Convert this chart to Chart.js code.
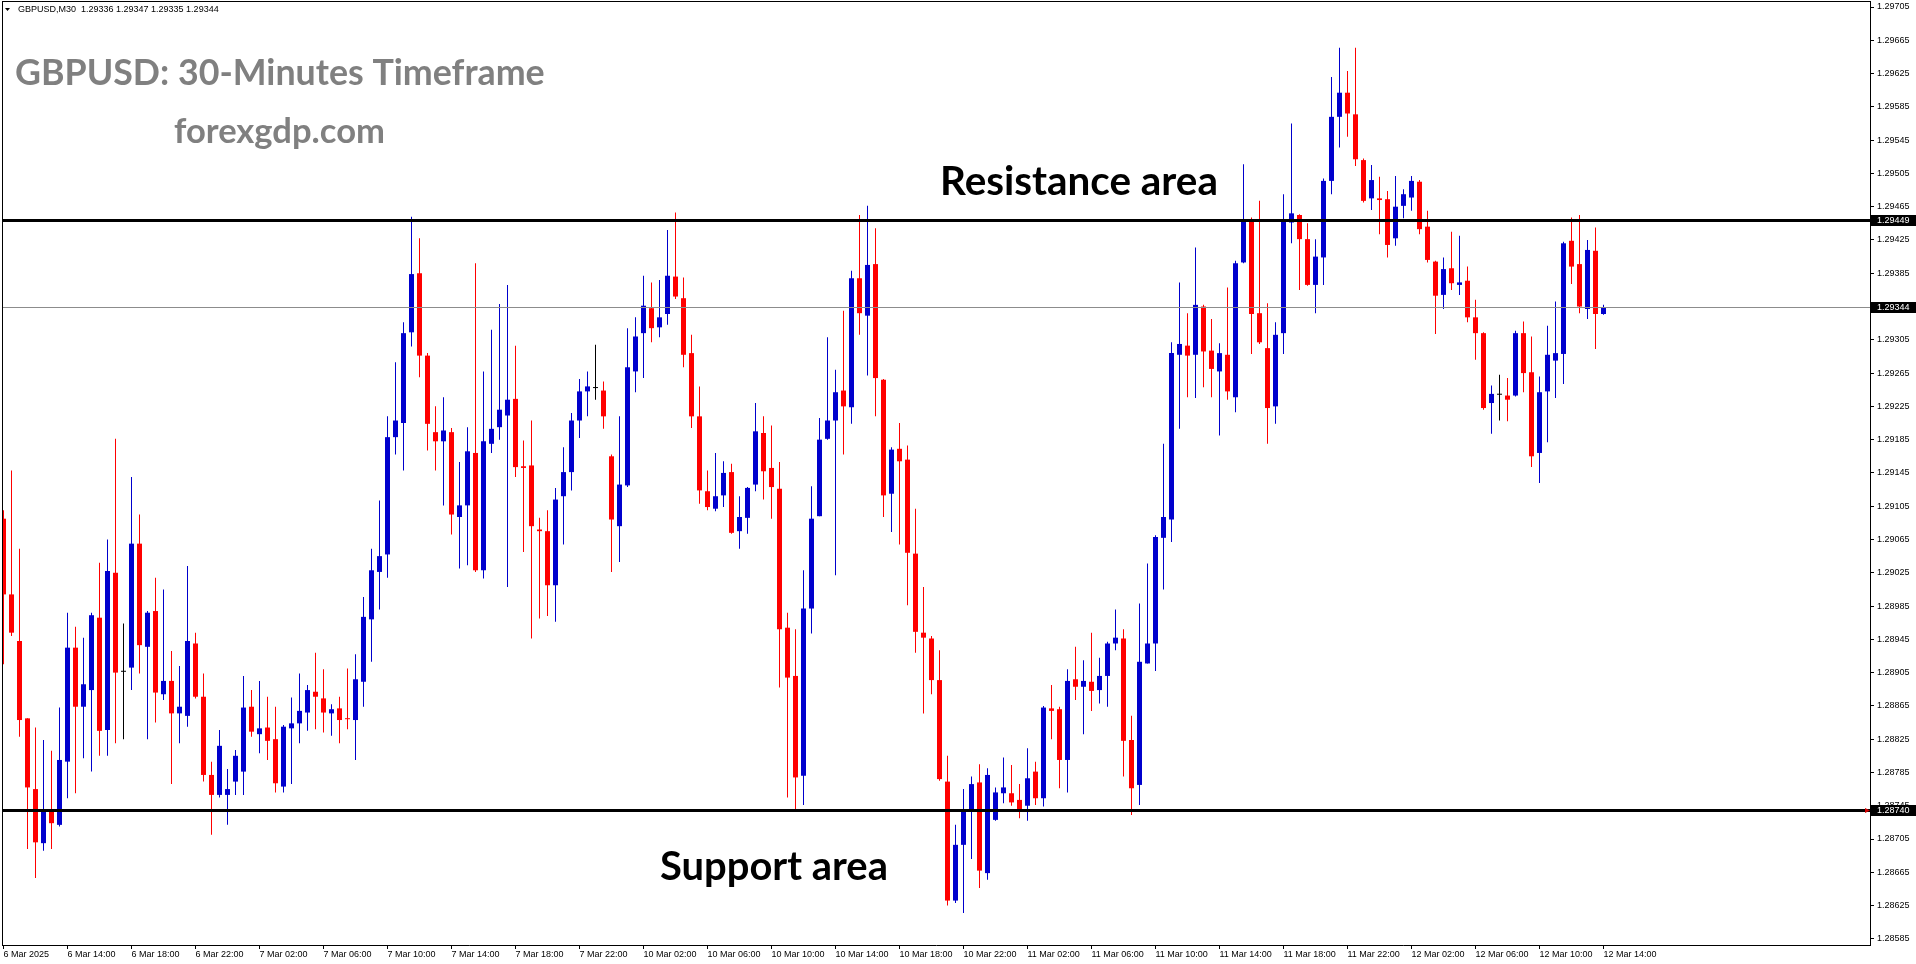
<!DOCTYPE html>
<html>
<head>
<meta charset="utf-8">
<script src="https://cdn.jsdelivr.net/npm/chart.js@4.4.1/dist/chart.umd.min.js"></script>
<style>
html,body{margin:0;padding:0;background:#fff;overflow:hidden}
#wrap{position:relative;width:1916px;height:964px}
</style>
</head>
<body>
<div id="wrap"><canvas id="c"></canvas></div>
<script>
// ---- DATA (GBPUSD M30) ----
const xTickLabels = ['6 Mar 2025','6 Mar 14:00','6 Mar 18:00','6 Mar 22:00','7 Mar 02:00','7 Mar 06:00','7 Mar 10:00','7 Mar 14:00','7 Mar 18:00','7 Mar 22:00','10 Mar 02:00','10 Mar 06:00','10 Mar 10:00','10 Mar 14:00','10 Mar 18:00','10 Mar 22:00','11 Mar 02:00','11 Mar 06:00','11 Mar 10:00','11 Mar 14:00','11 Mar 18:00','11 Mar 22:00','12 Mar 02:00','12 Mar 06:00','12 Mar 10:00','12 Mar 14:00'];
const BARS_PER_LABEL = 8;
const yTickValues = [1.28585,1.28625,1.28665,1.28705,1.28745,1.28785,1.28825,1.28865,1.28905,1.28945,1.28985,1.29025,1.29065,1.29105,1.29145,1.29185,1.29225,1.29265,1.29305,1.29345,1.29385,1.29425,1.29465,1.29505,1.29545,1.29585,1.29625,1.29665,1.29705];

const opens = [
1.29090,1.28999,1.28943,1.28850,1.28765,1.28700,1.28739,1.28722,1.28798,1.28935,
1.28864,1.28884,1.28971,1.28836,1.29025,1.28906,1.28911,1.29060,1.28936,1.28979,
1.28879,1.28895,1.28856,1.28853,1.28940,1.28876,1.28782,1.28758,1.28758,1.28774,
1.28786,1.28864,1.28831,1.28839,1.28825,1.28768,1.28838,1.28844,1.28857,1.28882,
1.28874,1.28856,1.28862,1.28850,1.28848,1.28894,1.28969,1.29026,1.29047,1.29188,
1.29205,1.29314,1.29385,1.29286,1.29194,1.29183,1.29194,1.29092,1.29106,1.29169,
1.29028,1.29180,1.29200,1.29214,1.29234,1.29153,1.29154,1.29077,1.29075,1.29010,
1.29117,1.29146,1.29208,1.29243,1.29247,1.29244,1.29165,1.29081,1.29130,1.29267,
1.29313,1.29343,1.29320,1.29336,1.29381,1.29355,1.29289,1.29213,1.29123,1.29102,
1.29118,1.29146,1.29075,1.29091,1.29131,1.29193,1.29151,1.29126,1.28959,1.28901,
1.28781,1.28982,1.29093,1.29186,1.29208,1.29244,1.29224,1.29379,1.29334,1.29396,
1.29257,1.29120,1.29174,1.29161,1.29048,1.28953,1.28946,1.28896,1.28774,1.28631,
1.28698,1.28739,1.28773,1.28664,1.28728,1.28760,1.28760,1.28752,1.28745,1.28786,
1.28754,1.28862,1.28861,1.28800,1.28897,1.28888,1.28894,1.28884,1.28901,1.28940,
1.28946,1.28824,1.28770,1.28916,1.28940,1.29067,1.29089,1.29287,1.29298,1.29287,
1.29345,1.29292,1.29267,1.29287,1.29236,1.29398,1.29449,1.29337,1.29295,1.29225,
1.29313,1.29446,1.29455,1.29426,1.29371,1.29404,1.29496,1.29573,1.29602,1.29576,
1.29521,1.29475,1.29475,1.29474,1.29427,1.29466,1.29476,1.29495,1.29441,1.29399,
1.29359,1.29391,1.29371,1.29376,1.29332,1.29313,1.29229,1.29239,1.29238,1.29238,
1.29313,1.29266,1.29169,1.29243,1.29280,1.29288,1.29424,1.29396,1.29342,1.29412,
1.29336];

const highs = [
1.29100,1.29148,1.29054,1.28850,1.28839,1.28824,1.28811,1.28863,1.28977,1.28960,
1.28947,1.28977,1.29037,1.29065,1.29186,1.28964,1.29140,1.29095,1.28979,1.29019,
1.29005,1.28931,1.28913,1.29033,1.28953,1.28904,1.28798,1.28836,1.28789,1.28812,
1.28901,1.28884,1.28895,1.28876,1.28864,1.28842,1.28875,1.28904,1.28890,1.28929,
1.28909,1.28867,1.28876,1.28910,1.28927,1.28996,1.29054,1.29112,1.29213,1.29278,
1.29326,1.29453,1.29427,1.29289,1.29225,1.29236,1.29199,1.29158,1.29200,1.29397,
1.29267,1.29317,1.29348,1.29371,1.29298,1.29184,1.29208,1.29091,1.29100,1.29127,
1.29176,1.29217,1.29258,1.29267,1.29299,1.29255,1.29167,1.29213,1.29319,1.29332,
1.29382,1.29374,1.29377,1.29437,1.29458,1.29380,1.29311,1.29249,1.29148,1.29169,
1.29159,1.29156,1.29117,1.29128,1.29229,1.29213,1.29202,1.29158,1.28977,1.28957,
1.29028,1.29129,1.29211,1.29308,1.29269,1.29340,1.29388,1.29455,1.29466,1.29439,
1.29258,1.29176,1.29205,1.29178,1.29102,1.29008,1.28949,1.28932,1.28805,1.28722,
1.28765,1.28780,1.28795,1.28790,1.28767,1.28803,1.28794,1.28771,1.28814,1.28798,
1.28865,1.28890,1.28864,1.28909,1.28936,1.28920,1.28953,1.28923,1.28942,1.28981,
1.28957,1.28853,1.28988,1.29036,1.29070,1.29180,1.29302,1.29374,1.29337,1.29416,
1.29347,1.29330,1.29301,1.29368,1.29400,1.29516,1.29452,1.29472,1.29349,1.29326,
1.29480,1.29565,1.29456,1.29445,1.29426,1.29499,1.29621,1.29656,1.29628,1.29656,
1.29523,1.29515,1.29501,1.29484,1.29502,1.29486,1.29502,1.29497,1.29460,1.29400,
1.29404,1.29435,1.29430,1.29393,1.29353,1.29314,1.29250,1.29263,1.29259,1.29316,
1.29327,1.29309,1.29261,1.29322,1.29351,1.29423,1.29452,1.29455,1.29425,1.29440,
1.29347];

const lows = [
1.28915,1.28949,1.28828,1.28693,1.28658,1.28691,1.28693,1.28720,1.28754,1.28760,
1.28802,1.28786,1.28805,1.28805,1.28820,1.28825,1.28884,1.28904,1.28825,1.28845,
1.28872,1.28771,1.28820,1.28840,1.28874,1.28774,1.28710,1.28755,1.28722,1.28758,
1.28758,1.28828,1.28808,1.28800,1.28761,1.28761,1.28771,1.28820,1.28835,1.28837,
1.28833,1.28829,1.28820,1.28837,1.28800,1.28864,1.28918,1.28981,1.29019,1.29167,
1.29148,1.29297,1.29260,1.29172,1.29148,1.29106,1.29071,1.29030,1.29034,1.29026,
1.29018,1.29169,1.29185,1.29008,1.29140,1.29050,1.28946,1.28970,1.28973,1.28966,
1.29059,1.29124,1.29187,1.29213,1.29233,1.29198,1.29026,1.29038,1.29128,1.29242,
1.29259,1.29302,1.29308,1.29323,1.29354,1.29272,1.29199,1.29108,1.29100,1.29099,
1.29104,1.29072,1.29054,1.29072,1.29123,1.29113,1.29090,1.28887,1.28755,1.28740,
1.28746,1.28952,1.29093,1.29185,1.29022,1.29167,1.29204,1.29311,1.29262,1.29213,
1.29092,1.29074,1.29059,1.28986,1.28929,1.28856,1.28879,1.28775,1.28625,1.28628,
1.28616,1.28681,1.28646,1.28656,1.28727,1.28748,1.28745,1.28730,1.28727,1.28746,
1.28744,1.28825,1.28766,1.28761,1.28872,1.28831,1.28859,1.28868,1.28864,1.28932,
1.28780,1.28734,1.28746,1.28916,1.28907,1.29005,1.29062,1.29198,1.29236,1.29235,
1.29248,1.29236,1.29190,1.29233,1.29218,1.29397,1.29288,1.29300,1.29180,1.29204,
1.29288,1.29421,1.29365,1.29370,1.29337,1.29371,1.29480,1.29536,1.29549,1.29514,
1.29470,1.29461,1.29432,1.29404,1.29418,1.29451,1.29460,1.29432,1.29398,1.29312,
1.29342,1.29365,1.29359,1.29326,1.29281,1.29221,1.29192,1.29208,1.29207,1.29237,
1.29242,1.29152,1.29133,1.29182,1.29235,1.29252,1.29372,1.29337,1.29330,1.29294,
1.29335];

const closes = [
1.28999,1.28953,1.28848,1.28767,1.28701,1.28739,1.28724,1.28800,1.28935,1.28864,
1.28891,1.28974,1.28835,1.29027,1.28905,1.28906,1.29060,1.28938,1.28977,1.28881,
1.28895,1.28856,1.28864,1.28943,1.28876,1.28782,1.28758,1.28817,1.28765,1.28805,
1.28863,1.28834,1.28838,1.28823,1.28772,1.28840,1.28844,1.28859,1.28884,1.28876,
1.28857,1.28861,1.28848,1.28849,1.28897,1.28972,1.29028,1.29045,1.29188,1.29208,
1.29313,1.29384,1.29286,1.29204,1.29183,1.29196,1.29095,1.29106,1.29171,1.29028,
1.29183,1.29198,1.29221,1.29233,1.29152,1.29151,1.29081,1.29075,1.29010,1.29113,
1.29146,1.29208,1.29243,1.29249,1.29247,1.29213,1.29089,1.29131,1.29272,1.29309,
1.29346,1.29319,1.29332,1.29382,1.29357,1.29287,1.29213,1.29124,1.29104,1.29117,
1.29145,1.29073,1.29092,1.29127,1.29195,1.29147,1.29128,1.28957,1.28899,1.28779,
1.28982,1.29090,1.29185,1.29208,1.29242,1.29225,1.29379,1.29337,1.29395,1.29259,
1.29118,1.29173,1.29159,1.29049,1.28954,1.28947,1.28896,1.28777,1.28631,1.28698,
1.28739,1.28771,1.28667,1.28782,1.28761,1.28767,1.28749,1.28739,1.28778,1.28754,
1.28863,1.28859,1.28800,1.28895,1.28888,1.28895,1.28883,1.28901,1.28940,1.28947,
1.28823,1.28766,1.28918,1.28940,1.29068,1.29092,1.29289,1.29300,1.29286,1.29347,
1.29291,1.29270,1.29289,1.29243,1.29397,1.29449,1.29336,1.29302,1.29223,1.29311,
1.29447,1.29457,1.29426,1.29371,1.29405,1.29496,1.29573,1.29602,1.29577,1.29522,
1.29472,1.29497,1.29473,1.29419,1.29465,1.29480,1.29496,1.29438,1.29401,1.29358,
1.29390,1.29373,1.29374,1.29332,1.29313,1.29223,1.29240,1.29239,1.29233,1.29313,
1.29265,1.29165,1.29242,1.29287,1.29289,1.29421,1.29393,1.29345,1.29413,1.29336,
1.29344];

const resistanceLevel = 1.29449;
const supportLevel = 1.28740;
const bidPrice = 1.29344;
const headerText = 'GBPUSD,M30  1.29336 1.29347 1.29335 1.29344';
const titleText = 'GBPUSD: 30-Minutes Timeframe';
const siteText = 'forexgdp.com';
const resistanceText = 'Resistance area';
const supportText = 'Support area';

// ---- STYLE / LAYOUT ----
const BULL = '#0000CD', BEAR = '#FF0000', DOJI = '#000000';
const AXIS_FONT = {family: 'Liberation Sans', size: 9};
const AREA = {left: 2, right: 1870, top: 2, bottom: 945};
const PX_PER_PRICE = 83200;       // vertical scale of the reference
const REF_Y_PIXEL = 220;          // pixel of resistance level
const X_STEP = 8, X_FIRST = 3.5;  // px per bar, centre of first bar
const W = AREA.right - AREA.left, H = AREA.bottom - AREA.top;
const xMin = -(X_FIRST - AREA.left) / X_STEP;
const xMax = xMin + W / X_STEP;
const yMax = resistanceLevel + (REF_Y_PIXEL - AREA.top) / PX_PER_PRICE;
const yMin = yMax - H / PX_PER_PRICE;

const idx = opens.map((_, i) => i);
const colors = idx.map(i => closes[i] > opens[i] ? BULL : (closes[i] < opens[i] ? BEAR : DOJI));

function fitSize(ctx, text, family, targetW) {
  ctx.font = 'bold 100px ' + family;
  return 100 * targetW / ctx.measureText(text).width;
}
function noPad(s) { s.paddingTop = 0; s.paddingBottom = 0; s.paddingLeft = 0; s.paddingRight = 0; }

const overlay = {
  id: 'overlay',
  beforeDraw(chart) {
    const c = chart.ctx; c.save(); c.fillStyle = '#fff'; c.fillRect(0, 0, chart.width, chart.height); c.restore();
  },
  afterDatasetsDraw(chart) {
    const c = chart.ctx, a = chart.chartArea, y = chart.scales.y;
    c.save();
    const yb = Math.round(y.getPixelForValue(bidPrice));
    c.fillStyle = '#8c8c8c';
    c.fillRect(a.left, yb, a.right - a.left, 1);
    c.fillStyle = '#000';
    [resistanceLevel, supportLevel].forEach(v => {
      const yy = Math.round(y.getPixelForValue(v));
      c.fillRect(a.left, yy - 1, a.right - a.left, 3);
    });
    c.restore();
  },
  afterDraw(chart) {
    const c = chart.ctx, a = chart.chartArea, y = chart.scales.y;
    c.save();
    // frame
    c.fillStyle = '#000';
    c.fillRect(a.left, 1, a.right - a.left + 1, 1);
    c.fillRect(a.left, 1, 1, a.bottom);
    // price boxes on the axis
    c.font = AXIS_FONT.size + 'px "' + AXIS_FONT.family + '"';
    c.textBaseline = 'middle'; c.textAlign = 'left';
    [resistanceLevel, bidPrice, supportLevel].forEach(v => {
      const py = Math.round(y.getPixelForValue(v));
      c.fillStyle = '#000';
      c.fillRect(a.right + 1, py - 5, chart.width - a.right - 1, 11);
      c.fillStyle = '#fff';
      c.fillText(v.toFixed(5), a.right + 7, py + 0.5);
    });
    // small red marker at support
    const ps = Math.round(y.getPixelForValue(supportLevel));
    c.fillStyle = '#d00000';
    c.beginPath(); c.moveTo(a.right - 5, ps - 2); c.lineTo(a.right, ps + 0.5); c.lineTo(a.right - 5, ps + 3); c.closePath(); c.fill();
    // header
    c.fillStyle = '#000';
    c.beginPath(); c.moveTo(5, 8); c.lineTo(10, 8); c.lineTo(7.5, 11); c.closePath(); c.fill();
    c.font = '9px "Liberation Sans"';
    c.textBaseline = 'middle';
    c.fillText(headerText, 18, 10);
    // titles
    c.textBaseline = 'alphabetic';
    const fam = 'Lato';
    c.fillStyle = '#808080';
    let s = fitSize(c, titleText, fam, 530);
    c.font = 'bold ' + s + 'px ' + fam; c.fillText(titleText, 15, 85);
    s = fitSize(c, siteText, fam, 211);
    c.font = 'bold ' + s + 'px ' + fam; c.fillText(siteText, 174, 143);
    c.fillStyle = '#000';
    s = fitSize(c, resistanceText, fam, 278);
    c.font = 'bold ' + s + 'px ' + fam; c.fillText(resistanceText, 940, 195);
    s = fitSize(c, supportText, fam, 228);
    c.font = 'bold ' + s + 'px ' + fam; c.fillText(supportText, 660, 880);
    c.restore();
  }
};

new Chart(document.getElementById('c'), {
  type: 'bar',
  data: {
    datasets: [
      {
        label: 'wick',
        data: idx.map(i => ({x: i, y: [lows[i], highs[i]]})),
        backgroundColor: colors,
        barThickness: 1, grouped: false, inflateAmount: 0, borderWidth: 0, order: 2
      },
      {
        label: 'body',
        data: idx.map(i => ({x: i, y: [opens[i], closes[i]]})),
        backgroundColor: colors,
        barThickness: 5, grouped: false, inflateAmount: 0, borderWidth: 0, minBarLength: 1, order: 1
      }
    ]
  },
  options: {
    responsive: true, maintainAspectRatio: false, animation: false, devicePixelRatio: 1,
    layout: {padding: {left: AREA.left, top: AREA.top, right: 0, bottom: 0}},
    plugins: {legend: {display: false}, tooltip: {enabled: false}},
    scales: {
      x: {
        type: 'linear', min: xMin, max: xMax, offset: false,
        afterBuildTicks: s => { s.ticks = xTickLabels.map((_, k) => ({value: k * BARS_PER_LABEL})); },
        afterFit: s => { s.height = 964 - AREA.bottom; noPad(s); },
        ticks: {autoSkip: false, maxRotation: 0, minRotation: 0, align: 'start', padding: 0, color: '#000', font: AXIS_FONT,
                callback: (v, k) => xTickLabels[k]},
        grid: {drawOnChartArea: false, drawTicks: true, tickLength: 4, color: '#000', offset: false},
        border: {display: true, color: '#000', width: 1}
      },
      y: {
        position: 'right', min: yMin, max: yMax,
        afterBuildTicks: s => { s.ticks = yTickValues.map(v => ({value: v})); },
        afterFit: s => { s.width = 1916 - AREA.right; noPad(s); },
        ticks: {padding: 3, color: '#000', font: AXIS_FONT, callback: v => Number(v).toFixed(5)},
        grid: {drawOnChartArea: false, drawTicks: true, tickLength: 4, color: '#000'},
        border: {display: true, color: '#000', width: 1}
      }
    }
  },
  plugins: [overlay]
});
</script>
</body>
</html>
